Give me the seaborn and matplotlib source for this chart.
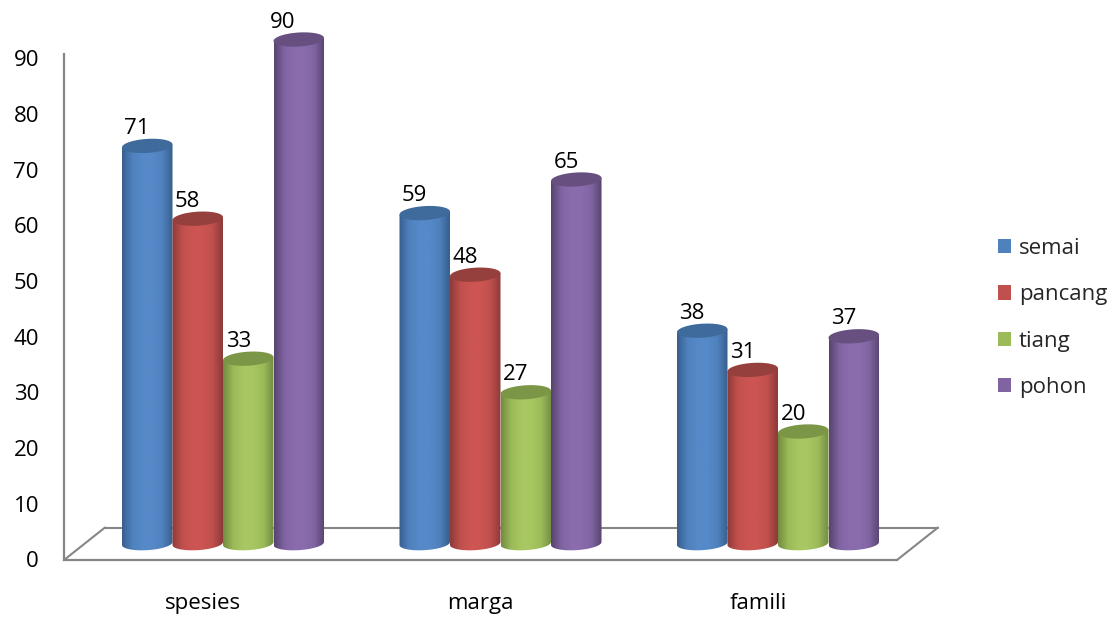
import numpy as np
import pandas as pd
import seaborn as sns
import matplotlib
matplotlib.use("Agg")
import matplotlib.pyplot as plt
from matplotlib.colors import LinearSegmentedColormap
from matplotlib.lines import Line2D
from matplotlib.patches import Patch, Polygon
from matplotlib.transforms import ScaledTranslation

categories = ["spesies", "marga", "famili"]
series_names = ["semai", "pancang", "tiang", "pohon"]
semai = [71, 59, 38]
pancang = [58, 48, 31]
tiang = [33, 27, 20]
pohon = [90, 65, 37]
y_ticks = [0, 10, 20, 30, 40, 50, 60, 70, 80, 90]

base_colors = ["#4F81BD", "#C0504D", "#9BBB59", "#8064A2"]
edge_colors = ["#38608F", "#8E3B39", "#748C42", "#584470"]
light_colors = ["#5589C8", "#CC5552", "#A8C762", "#8A6CAC"]
cap_colors = ["#3F6A9C", "#96403D", "#7B9647", "#67507F"]

W, H = 1116, 619
sns.set_theme(style="white")
plt.rcParams["font.family"] = ["Open Sans", "DejaVu Sans"]
FS = 16
fig = plt.figure(figsize=(W / 100, H / 100), dpi=100, facecolor="white")


def box(x0, y_top, x1, y_bottom):
    return [x0 / W, 1 - y_bottom / H, (x1 - x0) / W, (y_bottom - y_top) / H]


# front frame: the axis with ticks, positioned as the 3D floor's front edge
ax_front = fig.add_axes(box(64, 54, 897, 560), zorder=1)
ax_front.patch.set_alpha(0)
PX_FRONT = 5.567
ax_front.set_ylim(-2 / PX_FRONT, (558 - 54) / PX_FRONT)
ax_front.set_xlim(0, 3)
ax_front.set_xticks([0.5, 1.5, 2.5], categories)
ax_front.set_yticks(y_ticks)
ax_front.tick_params(axis="y", length=0, pad=18, labelsize=FS, labelcolor="black")
ax_front.tick_params(axis="x", length=0, pad=24, labelsize=FS, labelcolor="black")
nudge = ScaledTranslation(0, -1 / 72, fig.dpi_scale_trans)
for lab in ax_front.get_yticklabels():
    lab.set_transform(lab.get_transform() + nudge)
for s in ["top", "right"]:
    ax_front.spines[s].set_visible(False)
for s in ["left", "bottom"]:
    ax_front.spines[s].set_color("#868686")
    ax_front.spines[s].set_linewidth(1.6)

# floor's receding edges
gray = "#868686"
floor = [((64, 560), (105, 527.5)), ((105, 527.5), (938, 527.5)), ((938, 527.5), (897, 560))]
for (xa, ya), (xb, yb) in floor:
    fig.add_artist(Line2D([xa / W, xb / W], [1 - ya / H, 1 - yb / H], color=gray, lw=1.5,
                          transform=fig.transFigure, zorder=2))

# bars live half-way into the floor
ax = fig.add_axes(box(84.25, 20, 916.75, 560), zorder=3)
ax.patch.set_alpha(0)
PX = 5.6
BASE = 543.5
df = pd.DataFrame({
    "kategori": np.tile(categories, len(series_names)),
    "kelompok": np.repeat(series_names, len(categories)),
    "nilai": semai + pancang + tiang + pohon,
})
sns.barplot(data=df, x="kategori", y="nilai", hue="kelompok", order=categories,
            hue_order=series_names, palette=base_colors, width=0.728, gap=0, dodge=True,
            legend=False, errorbar=None, ax=ax)
ax.set_xlim(-0.5, 2.5)
y0, y1 = -(560 - BASE) / PX, (BASE - 20) / PX
ax.set_ylim(y0, y1)
ax.set_axis_off()

B = 7.0 / PX   # cap half-height in data units
TILT = 1.5 / PX  # left side lower than right
t = np.linspace(0, 2 * np.pi, 120)

for si, container in enumerate(ax.containers):
    cmap = LinearSegmentedColormap.from_list(
        "c" + str(si),
        [edge_colors[si], base_colors[si], light_colors[si], light_colors[si], base_colors[si], edge_colors[si]],
    )
    for ci, bar in enumerate(container):
        x, w, h = bar.get_x(), bar.get_width(), bar.get_height()
        cx = x + w / 2
        bar.set_visible(False)
        z = 2 + ci * 1 + si * 0.1
        tb = np.linspace(np.pi, 2 * np.pi, 50)
        bx = cx + w / 2 * np.cos(tb)
        by = B * 0.95 * np.sin(tb) + TILT * np.cos(tb)
        outline = np.column_stack([
            np.r_[bx, x + w, x],
            np.r_[by, h + TILT, h - TILT],
        ])
        body = Polygon(outline, closed=True, facecolor="none", edgecolor="none", zorder=z)
        ax.add_patch(body)
        grad = np.linspace(0, 1, 64).reshape(1, -1)
        im = ax.imshow(grad, cmap=cmap, aspect="auto", extent=[x, x + w, y0, y1],
                       zorder=z, interpolation="bilinear")
        im.set_clip_path(body)
        cap = np.column_stack([
            cx + w / 2 * np.cos(t),
            h + B * np.sin(t) + TILT * np.cos(t),
        ])
        ax.add_patch(Polygon(cap, closed=True, facecolor=cap_colors[si], edgecolor="none", zorder=z + 0.01))
        dx = -16 if h == df["nilai"].max() else -10
        ax.annotate(f"{int(h)}", xy=(cx, h), xytext=(dx * 0.72, 17.5 * 0.72),
                    textcoords="offset points", ha="center", va="center",
                    fontsize=FS, color="black", zorder=50)
ax.set_xlim(-0.5, 2.5)
ax.set_ylim(y0, y1)

handles = [Patch(facecolor=c, edgecolor="none", label=n) for c, n in zip(base_colors, series_names)]
leg = fig.legend(handles=handles, loc="center left", bbox_to_anchor=(998 / W, 1 - 318 / H),
                 frameon=False, fontsize=FS, labelspacing=1.14, handlelength=0.6,
                 handleheight=0.6, handletextpad=0.33, borderaxespad=0, borderpad=0)

fig.savefig("out.png", dpi=100)
